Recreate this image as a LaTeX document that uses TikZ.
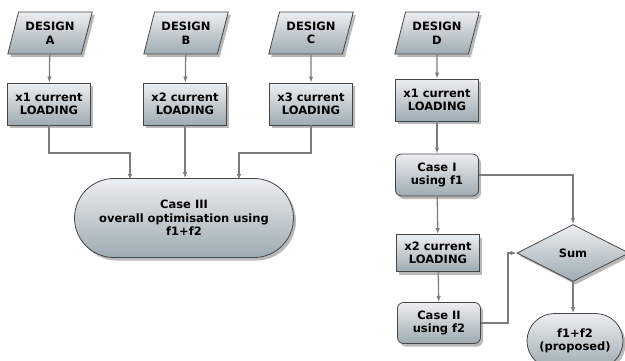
\documentclass[tikz,border=0pt]{standalone}
\usepackage{fontspec}
\setmainfont{DejaVu Sans}
\usepackage{xcolor}
\usetikzlibrary{arrows.meta, positioning, shapes.geometric, shapes.misc, shadows}

\definecolor{boxtop}{RGB}{236,239,241}
\definecolor{boxbot}{RGB}{158,170,178}
\definecolor{boxline}{RGB}{70,70,70}
\definecolor{flowline}{RGB}{125,125,125}

\begin{document}
\begin{tikzpicture}[x=1pt, y=-1pt,
  font=\bfseries\fontsize{11.5}{13.5}\selectfont,
  base/.style={draw=boxline, line width=0.8pt, top color=boxtop, bottom color=boxbot,
    drop shadow={shadow xshift=2.5pt, shadow yshift=-3pt, opacity=0.55},
    align=center, inner sep=1pt},
  design/.style={base, trapezium, trapezium left angle=70, trapezium right angle=110,
    trapezium stretches=true, minimum width=85pt, minimum height=42pt},
  load/.style={base, rectangle, minimum width=83pt, minimum height=42pt},
  casebox/.style={base, rectangle, rounded corners=6pt, minimum width=83pt, minimum height=42pt},
  stadium/.style={base, rounded rectangle},
  decide/.style={base, diamond, minimum width=112pt, minimum height=57pt},
  flow/.style={draw=flowline, line width=1.3pt, -{Latex[length=6pt, width=4.5pt]}}
]
  \useasboundingbox (0,0) rectangle (625,360);

  % left column inputs
  \node[design] (dA) at (50, 33)  {DESIGN\\A};
  \node[design] (dB) at (186, 33) {DESIGN\\B};
  \node[design] (dC) at (311, 33) {DESIGN\\C};

  \node[load] (lA) at (49, 104)  {x1 current\\LOADING};
  \node[load] (lB) at (185, 104) {x2 current\\LOADING};
  \node[load] (lC) at (311, 104) {x3 current\\LOADING};

  \node[stadium, minimum width=221pt, minimum height=79pt] (c3) at (184, 218)
    {Case III\\overall optimisation using\\f1+f2};

  % right column
  \node[design] (dD) at (437, 33) {DESIGN\\D};
  \node[load] (lD) at (437, 100) {x1 current\\LOADING};
  \node[casebox] (c1) at (437, 175) {Case I\\using f1};
  \node[load, minimum height=37pt] (lE) at (438, 253) {x2 current\\LOADING};
  \node[casebox, minimum height=41pt] (c2) at (439, 323) {Case II\\using f2};
  \node[decide] (sum) at (573, 253) {Sum};
  \node[stadium, minimum width=98pt, minimum height=55pt] (fs) at (575, 341)
    {f1+f2\\(proposed)};

  % connectors
  \draw[flow] (dA) -- (lA);
  \draw[flow] (dB) -- (lB);
  \draw[flow] (dC) -- (lC);
  \draw[flow] (lA.south) |- (130, 153) -- (130, 180);
  \draw[flow] (lB) -- (lB |- c3.north);
  \draw[flow] (lC.south) |- (239, 153) -- (239, 180);

  \draw[flow] (dD) -- (lD);
  \draw[flow] (lD) -- (c1);
  \draw[flow] (c1) -- (lE);
  \draw[flow] (lE) -- (c2);
  \draw[flow] (c1.east) -| (sum.north);
  \draw[flow] (c2.east) -| (508, 253) -- (sum.west);
  \draw[flow] (sum) -- (sum |- fs.north);
\end{tikzpicture}
\end{document}
